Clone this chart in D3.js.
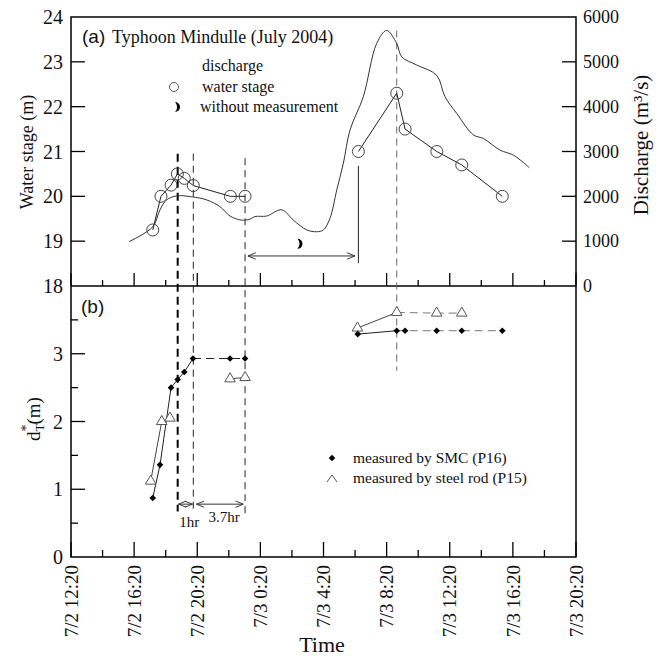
<!DOCTYPE html>
<html>
<head>
<meta charset="utf-8">
<script src="https://cdn.jsdelivr.net/npm/d3@7/dist/d3.min.js"></script>
<style>
  body { margin: 0; background: #fff; }
  text { font-family: "Liberation Serif", "Times New Roman", serif; fill: #111; }
  text.sans { font-family: "Liberation Sans", Arial, sans-serif; }
</style>
</head>
<body>
<svg id="chart" width="665" height="660"></svg>
<script>
// time is hours after 7/2 12:20
var tickLabels = ["7/2 12:20", "7/2 16:20", "7/2 20:20", "7/3 0:20", "7/3 4:20",
                  "7/3 8:20", "7/3 12:20", "7/3 16:20", "7/3 20:20"];

// discharge (m3/s)
var qHours = [3.68, 5.18, 5.64, 6.06, 6.7, 7.65, 8.6, 9.44, 10.08, 10.8, 11.34, 11.66, 12.4, 13.35,
              14.09, 14.94, 15.57, 15.99, 16.41, 16.84, 17.26, 17.68, 18.52, 19.37, 20.0, 20.64,
              20.96, 21.9, 23.17, 23.7, 24.44, 25.5, 26.13, 27.19, 28.03, 29.04];
var qValues = [990, 1320, 1700, 1920, 2010, 1990, 1920, 1770, 1560, 1470, 1490, 1550, 1560, 1700,
               1470, 1250, 1210, 1250, 1510, 2140, 2740, 3480, 4220, 5410, 5700, 5410,
               5110, 4930, 4700, 4220, 3850, 3370, 3290, 3030, 2920, 2640];

// water stage (m), two measured runs
var stageHoursA = [5.18, 5.70, 6.34, 6.74, 7.18, 7.75, 10.10, 11.03];
var stageA = [19.25, 20.0, 20.25, 20.5, 20.4, 20.24, 20.0, 20.0];
var stageHoursB = [18.21, 20.64, 21.17, 23.18, 24.76, 27.33];
var stageB = [21.0, 22.3, 21.5, 21.0, 20.7, 20.0];

// d*_T (m)
var smcHours = [5.18, 5.64, 6.34, 6.76, 7.18, 7.73, 10.08, 11.03, 18.17, 20.64, 21.17, 23.17, 24.76, 27.33];
var smcDepth = [0.87, 1.36, 2.50, 2.62, 2.73, 2.93, 2.93, 2.93, 3.29, 3.34, 3.34, 3.34, 3.34, 3.34];
var rodHours = [5.05, 5.75, 6.27, 10.08, 11.03, 18.15, 20.64, 23.17, 24.76];
var rodDepth = [1.12, 2.0, 2.05, 2.63, 2.65, 3.38, 3.61, 3.60, 3.60];

// key times
var tPeakStage = 6.76, tOneHr = 7.75, tEnd = 11.03, tRise = 18.21, tPeakQ = 20.64;

var svg = d3.select("#chart");
var L = 71, R = 576, T = 17, M = 286, B = 557;

var x = d3.scaleLinear().domain([0, 32]).range([L, R]);
var yS = d3.scaleLinear().domain([18, 24]).range([M, T]);
var yQ = d3.scaleLinear().domain([0, 6000]).range([M, T]);
var yD = d3.scaleLinear().domain([0, 4]).range([B, M]);

var defs = svg.append("defs");
defs.append("marker").attr("id", "arr").attr("viewBox", "0 -5 10 10")
    .attr("refX", 10).attr("refY", 0).attr("markerWidth", 8).attr("markerHeight", 8)
    .attr("orient", "auto-start-reverse").attr("markerUnits", "userSpaceOnUse")
  .append("path").attr("d", "M0,-4L10,0L0,4").attr("fill", "none").attr("stroke", "#333").attr("stroke-width", 1.2);

// frame
svg.append("rect").attr("x", L).attr("y", T).attr("width", R - L).attr("height", B - T)
    .attr("fill", "none").attr("stroke", "#000").attr("stroke-width", 1.5);
svg.append("line").attr("x1", L).attr("x2", R).attr("y1", M).attr("y2", M)
    .attr("stroke", "#000").attr("stroke-width", 1.5);

// x ticks (inward, both panels)
var g = svg.append("g").attr("stroke", "#000").attr("stroke-width", 1.3);
d3.range(0, 33, 2).forEach(function(h) {
  var major = h % 4 === 0;
  g.append("line").attr("x1", x(h)).attr("x2", x(h)).attr("y1", B).attr("y2", B - (major ? 15 : 7));
  g.append("line").attr("x1", x(h)).attr("x2", x(h)).attr("y1", M).attr("y2", M - (major ? 13 : 6));
});
// left ticks
d3.range(19, 24).forEach(function(v) {
  g.append("line").attr("x1", L).attr("x2", L + 14).attr("y1", yS(v)).attr("y2", yS(v));
});
d3.range(0.5, 4, 0.5).forEach(function(v) {
  var major = v % 1 === 0;
  g.append("line").attr("x1", L).attr("x2", L + (major ? 14 : 7)).attr("y1", yD(v)).attr("y2", yD(v));
});
// right ticks
d3.range(1000, 6000, 1000).forEach(function(v) {
  g.append("line").attr("x1", R).attr("x2", R - 14).attr("y1", yQ(v)).attr("y2", yQ(v));
});

// tick labels
d3.range(18, 25).forEach(function(v) {
  svg.append("text").attr("x", 63).attr("y", yS(v)).attr("dy", "0.35em")
     .attr("text-anchor", "end").attr("font-size", 20).text(v);
});
d3.range(0, 4).forEach(function(v) {
  svg.append("text").attr("x", 63).attr("y", yD(v)).attr("dy", "0.35em")
     .attr("text-anchor", "end").attr("font-size", 20).text(v);
});
d3.range(0, 7000, 1000).forEach(function(v) {
  svg.append("text").attr("x", 583).attr("y", yQ(v)).attr("dy", "0.35em")
     .attr("font-size", 18).text(v);
});
tickLabels.forEach(function(s, i) {
  var px = x(i * 4);
  svg.append("text").attr("transform", "translate(" + px + ",565) rotate(-90)")
     .attr("dy", "0.35em").attr("text-anchor", "end").attr("font-size", 19).text(s);
});

// axis titles
svg.append("text").attr("transform", "translate(27,152) rotate(-90)")
   .attr("text-anchor", "middle").attr("dy", "0.35em").attr("font-size", 18).text("Water stage (m)");
svg.append("text").attr("transform", "translate(641,145) rotate(-90)")
   .attr("text-anchor", "middle").attr("dy", "0.35em").attr("font-size", 21)
   .text("Discharge  (m\u00b3/s)");
var dt = svg.append("text").attr("transform", "translate(33,419) rotate(-90)")
   .attr("text-anchor", "middle").attr("dy", "0.35em").attr("font-size", 19);
dt.append("tspan").text("d");
dt.append("tspan").attr("font-size", 13).attr("dy", 4).text("T");
dt.append("tspan").attr("font-size", 14).attr("dx", -8).attr("dy", -13).text("*");
dt.append("tspan").attr("dy", 9).text("(m)");
svg.append("text").attr("x", 322).attr("y", 652).attr("text-anchor", "middle")
   .attr("font-size", 22).text("Time");

// panel labels
svg.append("text").attr("class", "sans").attr("x", 82).attr("y", 43)
   .attr("font-size", 19).text("(a)");
svg.append("text").attr("x", 112).attr("y", 43).attr("font-size", 18).text("Typhoon Mindulle (July 2004)");
svg.append("text").attr("class", "sans").attr("x", 81).attr("y", 313)
   .attr("font-size", 19).text("(b)");

// dashed guides
function vline(h, y1, y2, w, col, dash) {
  svg.append("line").attr("x1", x(h)).attr("x2", x(h)).attr("y1", y1).attr("y2", y2)
     .attr("stroke", col).attr("stroke-width", w).attr("stroke-dasharray", dash);
}
vline(tPeakStage, yS(20.95), yD(0.67), 2, "#000", "8,5");
vline(tOneHr, yS(20.95), yD(0.67), 1, "#222", "7,5");
vline(tEnd, yS(20.85), yD(0.59), 1, "#222", "7,5");
vline(tPeakQ, yS(23.7), yD(2.75), 1, "#666", "7,5");
// solid marker where measurement resumed
svg.append("line").attr("x1", x(tRise)).attr("x2", x(tRise)).attr("y1", yS(20.68)).attr("y2", yS(18.51))
   .attr("stroke", "#222").attr("stroke-width", 1);
// arrows
function harrow(h1, h2, y) {
  svg.append("line").attr("x1", x(h1)).attr("x2", x(h2)).attr("y1", y).attr("y2", y)
     .attr("stroke", "#333").attr("stroke-width", 1)
     .attr("marker-start", "url(#arr)").attr("marker-end", "url(#arr)");
}
harrow(11.2, 18.0, yS(18.67));
harrow(tPeakStage + 0.05, tOneHr - 0.05, yD(0.78));
harrow(tOneHr + 0.2, tEnd - 0.1, yD(0.78));
svg.append("text").attr("x", x(7.5)).attr("y", yD(0.45)).attr("text-anchor", "middle")
   .attr("font-size", 15).text("1hr");
svg.append("text").attr("x", x(9.7)).attr("y", yD(0.52)).attr("text-anchor", "middle")
   .attr("font-size", 15).text("3.7hr");

// moon symbol
var moon = "M0,-5A5,5 0 0,1 0,5A7,7 0 0,0 0,-5Z";
svg.append("path").attr("d", moon).attr("transform", "translate(" + x(14.35) + "," + yS(18.94) + ")")
   .attr("fill", "#000");

// discharge line
var qData = qHours.map(function(h, i) { return [h, qValues[i]]; });
svg.append("path").datum(qData).attr("fill", "none").attr("stroke", "#333").attr("stroke-width", 1)
   .attr("d", d3.line().x(function(d) { return x(d[0]); }).y(function(d) { return yQ(d[1]); })
     .curve(d3.curveCatmullRom));

// water stage
var stageLine = d3.line().x(function(d) { return x(d[0]); }).y(function(d) { return yS(d[1]); });
[[stageHoursA, stageA], [stageHoursB, stageB]].forEach(function(run) {
  var pts = run[0].map(function(h, i) { return [h, run[1][i]]; });
  svg.append("path").datum(pts).attr("fill", "none").attr("stroke", "#222").attr("stroke-width", 1)
     .attr("d", stageLine);
  svg.selectAll(null).data(pts).enter().append("circle")
     .attr("cx", function(d) { return x(d[0]); }).attr("cy", function(d) { return yS(d[1]); })
     .attr("r", 6).attr("fill", "none").attr("stroke", "#444").attr("stroke-width", 1);
});

// bottom panel series
var depthLine = d3.line().x(function(d) { return x(d[0]); }).y(function(d) { return yD(d[1]); });
function seg(hs, vs, i0, i1, col, dash) {
  var pts = hs.slice(i0, i1 + 1).map(function(h, i) { return [h, vs[i0 + i]]; });
  svg.append("path").datum(pts).attr("fill", "none").attr("stroke", col).attr("stroke-width", 1)
     .attr("stroke-dasharray", dash).attr("d", depthLine);
}
seg(smcHours, smcDepth, 0, 5, "#222", null);
seg(smcHours, smcDepth, 5, 7, "#222", "8,5");
seg(smcHours, smcDepth, 8, 9, "#222", null);
seg(smcHours, smcDepth, 9, 13, "#777", "8,5");
seg(rodHours, rodDepth, 0, 2, "#444", null);
seg(rodHours, rodDepth, 3, 4, "#444", null);
seg(rodHours, rodDepth, 5, 6, "#444", null);
seg(rodHours, rodDepth, 6, 8, "#777", "8,5");

var diamond = d3.symbol().type(d3.symbolSquare).size(22);
var tri = d3.symbol().type(d3.symbolTriangle).size(48);
svg.selectAll(null).data(rodHours).enter().append("path")
   .attr("d", tri).attr("transform", function(h, i) { return "translate(" + x(h) + "," + yD(rodDepth[i]) + ")"; })
   .attr("fill", "#fff").attr("stroke", "#555").attr("stroke-width", 1);
svg.selectAll(null).data(smcHours).enter().append("path")
   .attr("d", diamond)
   .attr("transform", function(h, i) { return "translate(" + x(h) + "," + yD(smcDepth[i]) + ") rotate(45)"; })
   .attr("fill", "#000");

// legends
svg.append("text").attr("x", 202).attr("y", 71).attr("font-size", 16).text("discharge");
svg.append("circle").attr("cx", 174).attr("cy", 87).attr("r", 4.5).attr("fill", "none").attr("stroke", "#555");
svg.append("text").attr("x", 202).attr("y", 92).attr("font-size", 16).text("water stage");
svg.append("path").attr("d", moon).attr("transform", "translate(175,107)").attr("fill", "#000");
svg.append("text").attr("x", 200).attr("y", 112).attr("font-size", 16).text("without measurement");

svg.append("path").attr("d", diamond).attr("transform", "translate(332,458) rotate(45)").attr("fill", "#000");
svg.append("text").attr("x", 353).attr("y", 463).attr("font-size", 15.5).text("measured by SMC (P16)");
svg.append("path").attr("d", "M327,482L332,475L337,482").attr("fill", "none").attr("stroke", "#555");
svg.append("text").attr("x", 353).attr("y", 483).attr("font-size", 15.5).text("measured by steel rod (P15)");
</script>
</body>
</html>
